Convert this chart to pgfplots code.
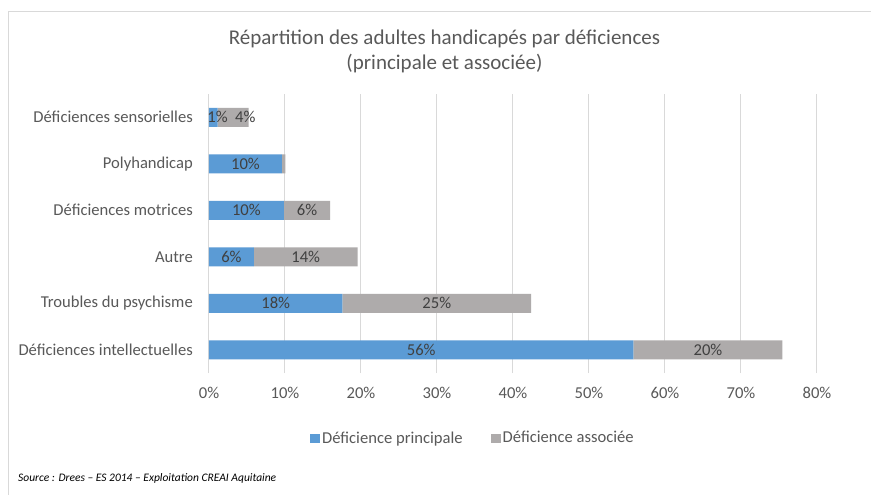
\documentclass[border=0pt]{standalone}
\usepackage{pgfplots}
\pgfplotsset{compat=1.18}
\usepackage{fontspec}
\setmainfont{Carlito}
\definecolor{cblue}{HTML}{5B9BD5}
\definecolor{cgray}{HTML}{AEABAB}
\definecolor{ctext}{HTML}{595959}
\definecolor{clab}{HTML}{404040}
\definecolor{cgrid}{HTML}{D9D9D9}
\begin{document}
\begin{tikzpicture}
\path[use as bounding box] (0pt,0pt) rectangle (871pt,-495pt);
\fill[white] (0pt,0pt) rectangle (871pt,-495pt);
\draw[cgrid,line width=1pt] (8pt,-495pt) -- (8pt,-12pt) -- (871pt,-12pt);
\node[text=ctext,font=\fontsize{21}{25}\selectfont,align=center,anchor=center] at (444.5pt,-51pt) {Répartition des adultes handicapés par déficiences\\(principale et associée)};
\node[text=black,font=\fontsize{11.5}{13}\selectfont\itshape,anchor=base west,inner sep=0pt] at (18pt,-481pt) {Source : Drees -- ES 2014 -- Exploitation CREAI Aquitaine};
\begin{axis}[
  at={(209pt,-373pt)}, anchor=south west,
  scale only axis, width=608pt, height=279pt,
  xbar stacked, bar width=19pt,
  xmin=0, xmax=80, ymin=-0.5, ymax=5.5,
  xtick={0,10,...,80},
  xticklabel={\pgfmathprintnumber{\tick}\%},
  ytick={0,1,2,3,4,5},
  yticklabels={Déficiences intellectuelles,Troubles du psychisme,Autre,Déficiences motrices,Polyhandicap,Déficiences sensorielles},
  axis line style={draw=none},
  major tick length=0pt,
  xmajorgrids, grid style={cgrid,line width=1pt},
  ymajorgrids=false,
  tick label style={text=ctext,font=\fontsize{16.6}{19}\selectfont},
  /pgf/number format/assume math mode=true,
  yticklabel style={anchor=east,inner sep=0pt,xshift=-16pt},
  xticklabel style={anchor=base,inner sep=0pt,yshift=-25pt},
  legend style={at={(axis description cs:0.434,-0.233)},anchor=center,draw=none,fill=none,
    legend columns=2,font=\fontsize{16.6}{19}\selectfont,text=ctext,
    /tikz/every even column/.append style={column sep=26pt},
    legend cell align=left, inner sep=0pt},
  legend image code/.code={\fill[#1,draw=none] (0pt,-5pt) rectangle (10pt,4.5pt);},
  nodes near coords,
  point meta=explicit symbolic,
  visualization depends on={\thisrow{dx} \as \dx},
  every node near coord/.append style={anchor=center,text=clab,font=\fontsize{16.6}{19}\selectfont,
    shift={(axis direction cs:\dx,0)}},
]
\addplot[fill=cblue,draw=none] table[x=v,y=c,meta=lab] {
v c lab dx
55.85 0 56\% 0
17.55 1 18\% 0
5.9 2 6\% 0
9.85 3 10\% 0
9.6 4 10\% 0
1.15 5 1\% 0.55
};
\addlegendentry{Déficience principale}
\addplot[fill=cgray,draw=none] table[x=v,y=c,meta=lab] {
v c lab dx
19.6 0 20\% 0
24.85 1 25\% 0
13.65 2 14\% 0
6.1 3 6\% 0
0.45 4 {} 0
4.05 5 4\% 1.6
};
\addlegendentry{Déficience associée}
\end{axis}
\end{tikzpicture}
\end{document}
